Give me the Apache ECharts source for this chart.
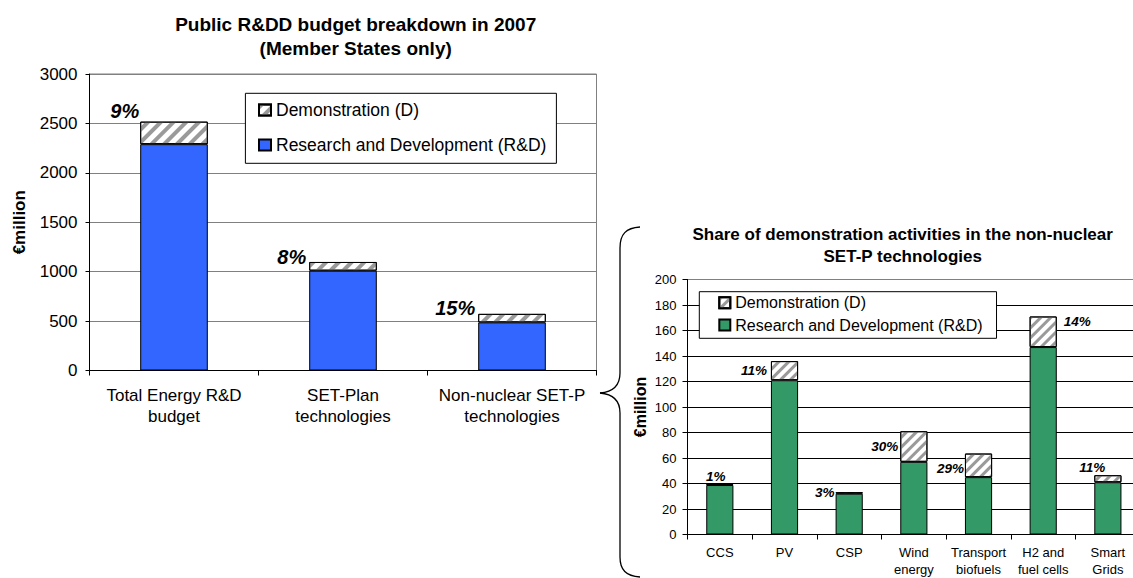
<!DOCTYPE html>
<html><head><meta charset="utf-8">
<script src="https://cdn.jsdelivr.net/npm/echarts@6/dist/echarts.min.js"></script>
<style>html,body{margin:0;padding:0;background:#fff}#c{width:1133px;height:578px}</style>
</head><body><div id="c"></div>
<script>
// ---- Left chart data ----
const leftCategories = ['Total Energy R&D\nbudget', 'SET-Plan\ntechnologies', 'Non-nuclear SET-P\ntechnologies'];
const leftRD = [2290, 1010, 487];
const leftDemo = [228, 88, 86];
const leftShareLabels = ['9%', '8%', '15%'];
const leftYMin = 0, leftYMax = 3000, leftYInterval = 500;

// ---- Right chart data ----
const rightCategories = ['CCS', 'PV', 'CSP', 'Wind\nenergy', 'Transport\nbiofuels', 'H2 and\nfuel cells', 'Smart\nGrids'];
const rightRD = [38.8, 121, 32, 57, 45, 147, 41];
const rightDemo = [0.6, 15, 1.2, 24, 18.5, 24, 5.5];
const rightShareLabels = ['1%', '11%', '3%', '30%', '29%', '14%', '11%'];
const rightYMin = 0, rightYMax = 200, rightYInterval = 20;

const seriesNames = ['Demonstration (D)', 'Research and Development (R&D)'];
const leftTitle = 'Public R&DD budget breakdown in 2007\n(Member States only)';
const rightTitle = 'Share of demonstration activities in the non-nuclear\nSET-P technologies';
const yName = '€million';

// ---- styling ----
const FONT = '"Liberation Sans", Arial, sans-serif';
const BLUE = '#3366FF', GREEN = '#339966';
const hatchLeft = {symbol:'rect', symbolSize:1, color:'#9a9a9a', dashArrayX:[1,0], dashArrayY:[4,5], rotation:-Math.PI/4};
const hatchRight = {symbol:'rect', symbolSize:1, color:'#9a9a9a', dashArrayX:[1,0], dashArrayY:[3,4], rotation:-Math.PI/4};

const leftLabelPlace = [
  {position:[-1, -1], align:'right', verticalAlign:'bottom'},
  {position:[-3, 5], align:'right', verticalAlign:'bottom'},
  {position:[-3, 4], align:'right', verticalAlign:'bottom'}
];
const rightLabelPlace = [
  {position:'top', distance:1, offset:[-4,0]},
  {position:'left', distance:4},
  {position:'left', distance:1},
  {position:'left', distance:2},
  {position:'left', distance:1, offset:[0,3]},
  {position:['100%',0], align:'left', verticalAlign:'top', offset:[7,-2]},
  {position:[0,0], align:'center', verticalAlign:'bottom', offset:[-2,-1]}
];

const leftDemoData = leftDemo.map((v,i) => ({value:v, label:Object.assign({show:true}, leftLabelPlace[i])}));
const rightDemoData = rightDemo.map((v,i) => ({value:v, label:Object.assign({show:true}, rightLabelPlace[i])}));

const braceStyle = {fill:'none', stroke:'#000', lineWidth:1.3};
const brace = [
  {type:'bezierCurve', shape:{x1:640,y1:227,cpx1:626,cpy1:228,cpx2:620,cpy2:234,x2:620,y2:248}, style:braceStyle},
  {type:'line', shape:{x1:620,y1:248,x2:620,y2:373}, style:braceStyle},
  {type:'bezierCurve', shape:{x1:620,y1:373,cpx1:620,cpy1:386,cpx2:612,cpy2:392,x2:600,y2:393}, style:braceStyle},
  {type:'bezierCurve', shape:{x1:600,y1:393,cpx1:612,cpy1:394,cpx2:620,cpy2:400,x2:620,y2:413}, style:braceStyle},
  {type:'line', shape:{x1:620,y1:413,x2:620,y2:557}, style:braceStyle},
  {type:'bezierCurve', shape:{x1:620,y1:557,cpx1:620,cpy1:570,cpx2:626,cpy2:576,x2:640,y2:577}, style:braceStyle}
];

const chart = echarts.init(document.getElementById('c'), null, {renderer:'svg'});
const axisBlack = {lineStyle:{color:'#000', width:1}};
chart.setOption({
  animation:false,
  backgroundColor:'#fff',
  textStyle:{fontFamily:FONT, color:'#000'},
  graphic:[
    {type:'text', x:355.7, y:36.2, style:{text:leftTitle, align:'center', verticalAlign:'middle', font:'bold 19px ' + FONT, lineHeight:24.3, fill:'#000'}},
    {type:'text', x:902.7, y:245.5, style:{text:rightTitle, align:'center', verticalAlign:'middle', font:'bold 17px ' + FONT, lineHeight:22.4, fill:'#000'}}
  ].concat(brace),
  grid:[
    {left:89.5, top:74, width:507, height:296.5, show:true, borderColor:'#808080', borderWidth:1, backgroundColor:'#fff', containLabel:false, outerBoundsMode:'none'},
    {left:687.5, top:279.5, width:452.7, height:255, show:true, borderColor:'#808080', borderWidth:1, backgroundColor:'#fff', containLabel:false, outerBoundsMode:'none'}
  ],
  legend:[
    {orient:'vertical', left:245.4, top:93.3, icon:'rect', itemWidth:12, itemHeight:11, itemGap:15,
     padding:[6.7, 10, 8.3, 12.6], borderColor:'#000', borderWidth:1, backgroundColor:'#fff', borderRadius:0,
     textStyle:{fontSize:17.5, lineHeight:20, color:'#000', fontFamily:FONT},
     data:[{name:seriesNames[0]}, {name:seriesNames[1], itemStyle:{color:BLUE}}], selectedMode:false},
    {orient:'vertical', left:699.3, top:291.7, icon:'rect', itemWidth:11, itemHeight:11, itemGap:4.3,
     padding:[2, 14, 4.3, 19], borderColor:'#000', borderWidth:1, backgroundColor:'#fff', borderRadius:0,
     textStyle:{fontSize:16, lineHeight:18, color:'#000', fontFamily:FONT},
     data:[{name:seriesNames[0], itemStyle:{decal:hatchRight}}, {name:seriesNames[1], itemStyle:{color:GREEN}}], selectedMode:false}
  ],
  xAxis:[
    {gridIndex:0, type:'category', data:leftCategories, axisLine:axisBlack,
     axisTick:{show:true, length:5, alignWithLabel:false, lineStyle:{color:'#000'}},
     axisLabel:{interval:0, fontSize:17, lineHeight:21, margin:14, color:'#000', fontFamily:FONT}, splitLine:{show:false}},
    {gridIndex:1, type:'category', data:rightCategories, axisLine:axisBlack,
     axisTick:{show:true, length:5, alignWithLabel:false, lineStyle:{color:'#000'}},
     axisLabel:{interval:0, fontSize:13, lineHeight:16.5, margin:10, color:'#000', fontFamily:FONT}, splitLine:{show:false}}
  ],
  yAxis:[
    {gridIndex:0, type:'value', min:leftYMin, max:leftYMax, interval:leftYInterval,
     name:yName, nameLocation:'middle', nameRotate:90, nameGap:62,
     nameTextStyle:{fontSize:17, fontWeight:'bold', color:'#000', fontFamily:FONT},
     axisLine:{show:true, lineStyle:{color:'#000', width:1}},
     axisTick:{show:true, length:4, lineStyle:{color:'#000'}},
     axisLabel:{fontSize:17, margin:12, color:'#000', fontFamily:FONT, formatter:v => String(v)},
     splitLine:{show:true, lineStyle:{color:'#808080', width:1}}},
    {gridIndex:1, type:'value', min:rightYMin, max:rightYMax, interval:rightYInterval,
     name:yName, nameLocation:'middle', nameRotate:90, nameGap:39,
     nameTextStyle:{fontSize:16, fontWeight:'bold', color:'#000', fontFamily:FONT},
     axisLine:{show:true, lineStyle:{color:'#000', width:1}},
     axisTick:{show:true, length:5, lineStyle:{color:'#000'}},
     axisLabel:{fontSize:13, margin:11, color:'#000', fontFamily:FONT, formatter:v => String(v)},
     splitLine:{show:true, showMaxLine:false, lineStyle:{color:'#000', width:1}}}
  ],
  series:[
    {name:seriesNames[1], type:'bar', stack:'L', xAxisIndex:0, yAxisIndex:0, barWidth:'40%', data:leftRD,
     itemStyle:{color:BLUE, borderColor:'#000', borderWidth:1}},
    {name:seriesNames[0], type:'bar', stack:'L', xAxisIndex:0, yAxisIndex:0, barWidth:'40%', data:leftDemoData,
     itemStyle:{color:'#fff', borderColor:'#000', borderWidth:1, decal:hatchLeft},
     label:{show:true, fontSize:20, fontWeight:'bold', fontStyle:'italic', color:'#000', fontFamily:FONT,
            formatter:p => leftShareLabels[p.dataIndex]}},
    {name:seriesNames[1], type:'bar', stack:'R', xAxisIndex:1, yAxisIndex:1, barWidth:'42%', data:rightRD,
     itemStyle:{color:GREEN, borderColor:'#000', borderWidth:1}},
    {name:seriesNames[0], type:'bar', stack:'R', xAxisIndex:1, yAxisIndex:1, barWidth:'42%', data:rightDemoData,
     itemStyle:{color:'#fff', borderColor:'#000', borderWidth:1, decal:hatchRight},
     label:{show:true, fontSize:13.5, fontWeight:'bold', fontStyle:'italic', color:'#000', fontFamily:FONT,
            formatter:p => rightShareLabels[p.dataIndex]}}
  ]
});
</script>
</body></html>
